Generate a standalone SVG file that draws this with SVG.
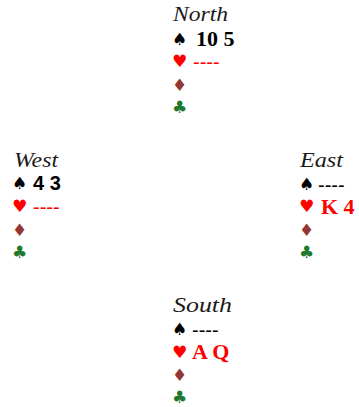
<svg xmlns="http://www.w3.org/2000/svg" width="359" height="407" viewBox="0 0 359 407">
<style>
.name{font-family:"Liberation Serif",serif;font-style:italic;font-size:22px;fill:#1a1a1a}
.suit{font-family:"DejaVu Sans",sans-serif;font-size:17px}
.sp{fill:#000}
.he{fill:#ff0000}
.di{fill:#943634}
.cl{fill:#1f7a2e}
.card{font-family:"Liberation Serif",serif;font-weight:bold;font-size:22px}
.dash{font-family:"Liberation Sans",sans-serif;font-size:20px}
.blk{fill:#000}
.red{fill:#ff0000}
</style>
<rect width="359" height="407" fill="#fff"/>
<g id="north">
<text class="name" x="173" y="21" textLength="55" lengthAdjust="spacingAndGlyphs">North</text>
<text class="suit sp" x="172" y="45">♠</text>
<text class="card blk" x="196" y="46">10 5</text>
<text class="suit he" x="172" y="67">♥</text>
<text class="dash red" x="193" y="69">----</text>
<text class="suit di" x="172" y="91">♦</text>
<text class="suit cl" x="172" y="113">♣</text>
</g>
<g id="west">
<text class="name" x="14" y="167" textLength="44" lengthAdjust="spacingAndGlyphs">West</text>
<text class="suit sp" x="12" y="189">♠</text>
<text class="card blk" x="33" y="190" style="font-family:'Liberation Sans',sans-serif;font-size:20px">4 3</text>
<text class="suit he" x="12" y="212">♥</text>
<text class="dash red" x="33" y="214">----</text>
<text class="suit di" x="12" y="236">♦</text>
<text class="suit cl" x="12" y="258">♣</text>
</g>
<g id="east">
<text class="name" x="300" y="167" textLength="43" lengthAdjust="spacingAndGlyphs">East</text>
<text class="suit sp" x="299" y="190">♠</text>
<text class="dash blk" x="318" y="192">----</text>
<text class="suit he" x="299" y="212">♥</text>
<text class="card red" x="321" y="214">K 4</text>
<text class="suit di" x="299" y="236">♦</text>
<text class="suit cl" x="299" y="258">♣</text>
</g>
<g id="south">
<text class="name" x="173" y="312" textLength="59" lengthAdjust="spacingAndGlyphs">South</text>
<text class="suit sp" x="172" y="335">♠</text>
<text class="dash blk" x="192" y="337">----</text>
<text class="suit he" x="172" y="358">♥</text>
<text class="card red" x="192" y="359">A Q</text>
<text class="suit di" x="172" y="381">♦</text>
<text class="suit cl" x="172" y="403">♣</text>
</g>
</svg>
